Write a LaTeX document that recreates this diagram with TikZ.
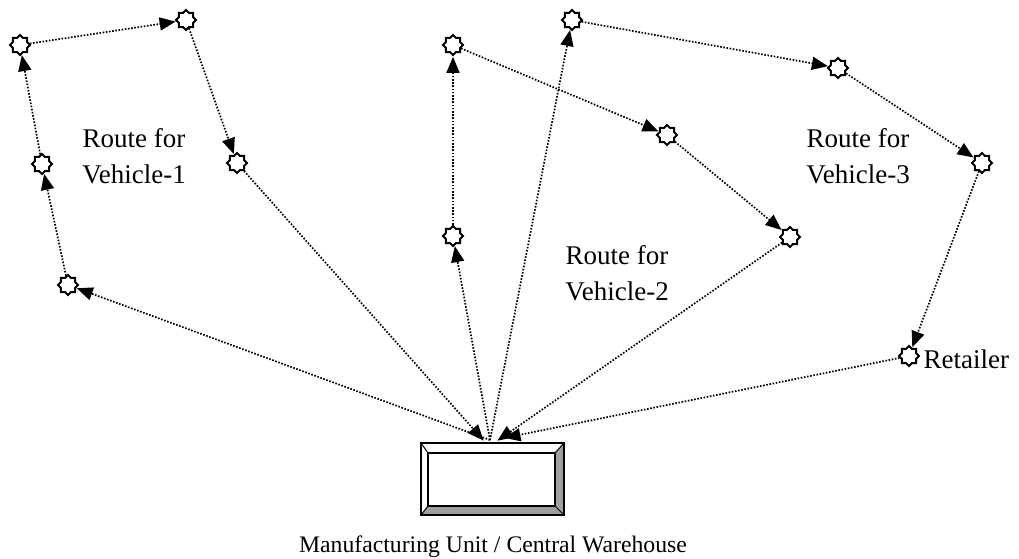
\documentclass[tikz,border=0pt]{standalone}
\usepackage{fontspec}
\setmainfont{Liberation Serif}
\usepackage{tikz}
\usetikzlibrary{shapes.geometric}
\usetikzlibrary{arrows.meta}

\tikzset{
	stop/.style={star, star points=8, star point ratio=1.3, draw, fill=white, line width=1.9pt, minimum size=20pt, inner sep=0pt},
	route/.style={line width=1.7pt, dash pattern=on 1.6pt off 1.6pt, -{Triangle[length=16pt,width=13pt]}, shorten >=0.5pt},
	lbl/.style={align=center, font=\fontsize{27}{36}\selectfont}
}

\begin{document}
\begin{tikzpicture}[x=1pt, y=-1pt]
		\useasboundingbox (0,0) rectangle (1019,558);
		% Warehouse box:
		\fill[gray!75] (564,443) -- (564,515) -- (421,515) -- (428,506) -- (555,506) -- (555,453) -- cycle;
		\draw[line width=1.5pt] (421,443) rectangle (564,515);
		\draw[line width=1.5pt] (428,453) rectangle (555,506);
		\draw[line width=1pt] (421,443) -- (428,453) (564,443) -- (555,453) (421,515) -- (428,506) (564,515) -- (555,506);
		\node[lbl, font=\fontsize{23.7}{30}\selectfont, anchor=base] (W) at (493,552) {Manufacturing Unit / Central Warehouse};
		\coordinate (hub) at (490,440);
		\coordinate (in1) at (484,441);
		\coordinate (in2) at (497,441);
		\coordinate (in3) at (504,438);
		% Stops:
		\node[stop] (A1) at (68,285){};
		\node[stop] (A2) at (42,164){};
		\node[stop] (A3) at (20,45){};
		\node[stop] (A4) at (186,20){};
		\node[stop] (A5) at (237,163){};
		\node[stop] (B1) at (453,236){};
		\node[stop] (B2) at (453,45){};
		\node[stop] (B3) at (667,135){};
		\node[stop] (B4) at (790,237){};
		\node[stop] (C1) at (572,20){};
		\node[stop] (C2) at (838,68){};
		\node[stop] (C3) at (982,163){};
		\node[stop] (C4) at (909,356){};
		% Labels:
		\node[lbl] (L1) at (134,156) {Route for\\Vehicle-1};
		\node[lbl] (L2) at (617,273) {Route for\\Vehicle-2};
		\node[lbl] (L3) at (858,156) {Route for\\Vehicle-3};
		\node[lbl, anchor=west] (R) at (920,359) {Retailer};
		% Routes:
		\draw[route] (hub) -- (A1);
		\draw[route] (A1) -- (A2);
		\draw[route] (A2) -- (A3);
		\draw[route] (A3) -- (A4);
		\draw[route] (A4) -- (A5);
		\draw[route] (A5) -- (in1);
		\draw[route] (hub) -- (B1);
		\draw[route] (B1) -- (B2);
		\draw[route] (B2) -- (B3);
		\draw[route] (B3) -- (B4);
		\draw[route] (B4) -- (in2);
		\draw[route] (hub) -- (C1);
		\draw[route] (C1) -- (C2);
		\draw[route] (C2) -- (C3);
		\draw[route] (C3) -- (C4);
		\draw[route] (C4) -- (in3);
\end{tikzpicture}
\end{document}
